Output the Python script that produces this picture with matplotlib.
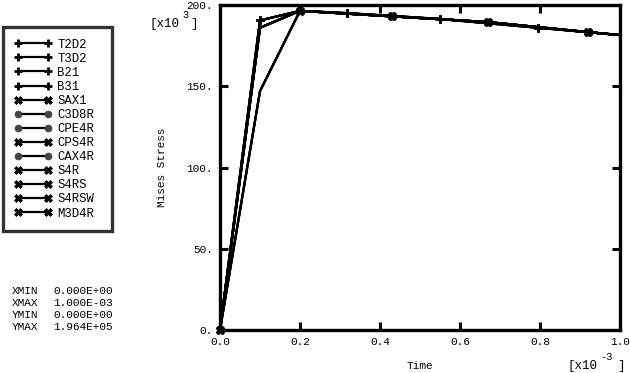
import matplotlib
matplotlib.use('Agg')
import matplotlib.pyplot as plt

plt.rcParams['font.family'] = ['Liberation Mono', 'DejaVu Sans Mono']

# time in 1e-3 s, stress in 1e3
t_plus = [0.0, 0.1, 0.2, 0.317, 0.55, 0.795, 1.0]
s_plus = [0.0, 190.5, 196.4, 195.0, 191.4, 186.0, 181.5]
t_cross = [0.0, 0.1, 0.2, 0.43, 0.67, 0.92, 1.0]
s_cross = [0.0, 186.0, 196.4, 193.0, 189.5, 183.3, 181.5]
t_circ = [0.0, 0.1, 0.2, 0.43, 0.67, 0.92, 1.0]
s_circ = [0.0, 147.0, 196.4, 193.0, 189.5, 183.3, 181.5]

names = ['T2D2', 'T3D2', 'B21', 'B31', 'SAX1', 'C3D8R', 'CPE4R', 'CPS4R',
         'CAX4R', 'S4R', 'S4RS', 'S4RSW', 'M3D4R']
kinds = ['plus', 'plus', 'plus', 'plus', 'cross', 'circ', 'circ', 'cross',
         'circ', 'cross', 'cross', 'cross', 'cross']

xticks = [0.0, 0.2, 0.4, 0.6, 0.8, 1.0]
yticks = [0, 50, 100, 150, 200]
info = [('XMIN', '0.000E+00'), ('XMAX', '1.000E-03'),
        ('YMIN', '0.000E+00'), ('YMAX', '1.964E+05')]

data = {'plus': (t_plus, s_plus), 'cross': (t_cross, s_cross), 'circ': (t_circ, s_circ)}
style = {'plus': dict(marker='+', ms=6, mew=2.0, mec='black', mfc='black',
                      markevery=[1, 3, 4, 5], zorder=3),
         'cross': dict(marker='X', ms=6, mew=0.5, mec='black', mfc='black',
                       markevery=[0, 2, 3, 4, 5], zorder=4),
         'circ': dict(marker='o', ms=5, mew=0.5, mec='#444444', mfc='#444444',
                      markevery=[3, 4, 5], zorder=2)}

fig = plt.figure(figsize=(6.3, 3.73), dpi=100)
ax = fig.add_axes([220/630, 1-330/373, 400/630, 325/373])

handles = []
for n, k in zip(names, kinds):
    t, s = data[k]
    ln, = ax.plot(t, s, color='black', lw=1.6, label=n, clip_on=False, **style[k])
    handles.append(ln)

ax.set_xlim(0, 1.0)
ax.set_ylim(0, 200)
ax.set_xticks(xticks)
ax.set_xticklabels(['%.1f' % v for v in xticks])
ax.set_yticks(yticks)
ax.set_yticklabels(['%d.' % v for v in yticks])
ax.tick_params(direction='in', length=6, width=2.2, top=True, right=True,
               labelsize=8, pad=5)
for sp in ax.spines.values():
    sp.set_linewidth(2.4)

ax.set_xlabel('Time', fontsize=8, labelpad=10)
ax.set_ylabel('Mises Stress', fontsize=8, labelpad=14)

# axis multipliers
fig.text(150/630, 1-27/373, '[x10', fontsize=9, va='baseline')
fig.text(182/630, 1-18/373, '3', fontsize=7.5, va='baseline')
fig.text(190/630, 1-27/373, ']', fontsize=9, va='baseline')
fig.text(568/630, 1-369/373, '[x10', fontsize=9, va='baseline')
fig.text(600/630, 1-360/373, '-3', fontsize=7.5, va='baseline')
fig.text(617/630, 1-369/373, ']', fontsize=9, va='baseline')

leg = fig.legend(handles=handles, loc='upper left',
                 bbox_to_anchor=(3/630, 1-27/373, 109/630, 0.0), mode='expand',
                 numpoints=2, fontsize=8.8, frameon=True, fancybox=False,
                 handlelength=3.0, labelspacing=0.17, borderpad=0.95,
                 handletextpad=0.5, borderaxespad=0.0)
leg.get_frame().set_edgecolor('black')
leg.get_frame().set_linewidth(2.4)

for i, (a, b) in enumerate(info):
    y = 1 - (291 + i*12.0) / 373
    fig.text(12/630, y, a, fontsize=8, va='center')
    fig.text(53/630, y, b, fontsize=8, va='center')

fig.savefig('out.png', dpi=100)
